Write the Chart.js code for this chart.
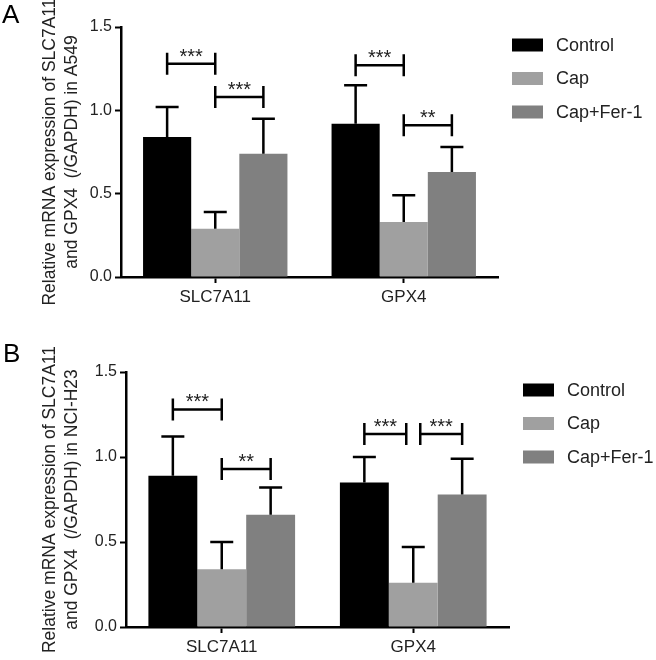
<!DOCTYPE html>
<html>
<head>
<meta charset="utf-8">
<script src="https://cdn.jsdelivr.net/npm/chart.js@4.4.1/dist/chart.umd.min.js"></script>
<style>
    body { margin: 0; background: #fff; }
    .panel { position: relative; width: 656px; height: 330px; }
    canvas { display: block; }
</style>
</head>
<body>
<div class="panel"><canvas id="chart-a549" width="656" height="330"></canvas></div>
<div class="panel"><canvas id="chart-h23" width="656" height="330"></canvas></div>
<script>
// Shared categories and groups
const categories = ['SLC7A11', 'GPX4'];
const groups = ['Control', 'Cap', 'Cap+Fer-1'];
const yTicks = [0, 0.5, 1.0, 1.5];

// Panel A - A549
const a549Control = [0.84, 0.92];
const a549Cap = [0.29, 0.33];
const a549CapFer = [0.74, 0.63];
const a549ControlSd = [0.18, 0.23];
const a549CapSd = [0.10, 0.16];
const a549CapFerSd = [0.21, 0.15];
// [category, from group, to group, y value, label]
const a549Sig = [
    [0, 0, 1, 1.28, '***'],
    [0, 1, 2, 1.08, '***'],
    [1, 0, 1, 1.27, '***'],
    [1, 1, 2, 0.91, '**']
];

// Panel B - NCI-H23
const h23Control = [0.89, 0.85];
const h23Cap = [0.34, 0.26];
const h23CapFer = [0.66, 0.78];
const h23ControlSd = [0.23, 0.15];
const h23CapSd = [0.16, 0.21];
const h23CapFerSd = [0.16, 0.21];
const h23Sig = [
    [0, 0, 1, 1.28, '***'],
    [0, 1, 2, 0.93, '**'],
    [1, 0, 1, 1.135, '***'],
    [1, 1, 2, 1.135, '***']
];

const groupColors = ['#000000', '#a0a0a0', '#808080'];
const textColor = '#222';

Chart.defaults.font.family = '"Liberation Sans", Arial, sans-serif';

// Upper error bars
const errorBarPlugin = {
    id: 'errorBars',
    afterDatasetsDraw(chart) {
        const ctx = chart.ctx;
        const yScale = chart.scales.y;
        ctx.save();
        ctx.strokeStyle = '#000';
        ctx.lineWidth = 2.5;
        chart.data.datasets.forEach((ds, i) => {
            chart.getDatasetMeta(i).data.forEach((bar, j) => {
                const yErr = yScale.getPixelForValue(ds.data[j] + ds.sd[j]);
                ctx.beginPath();
                ctx.moveTo(bar.x, bar.y);
                ctx.lineTo(bar.x, yErr);
                ctx.moveTo(bar.x - 11.5, yErr);
                ctx.lineTo(bar.x + 11.5, yErr);
                ctx.stroke();
            });
        });
        ctx.restore();
    }
};

// Significance brackets, legend and panel letter
const annotatePlugin = {
    id: 'annotate',
    afterDraw(chart, args, opts) {
        const ctx = chart.ctx;
        const yScale = chart.scales.y;
        const area = chart.chartArea;
        const sig = opts.sig || [];
        ctx.save();
        ctx.strokeStyle = '#000';
        ctx.lineWidth = 2.5;
        ctx.fillStyle = textColor;

        sig.forEach((b) => {
            const [cat, from, to, yVal, label] = b;
            let x1 = chart.getDatasetMeta(from).data[cat].x;
            let x2 = chart.getDatasetMeta(to).data[cat].x;
            // pull ends apart when two brackets meet at the same height
            sig.forEach((o) => {
                if (o === b || o[0] !== cat || o[3] !== yVal) return;
                if (o[1] === to) x2 -= 7;
                if (o[2] === from) x1 += 7;
            });
            const y = yScale.getPixelForValue(yVal);
            ctx.beginPath();
            ctx.moveTo(x1, y);
            ctx.lineTo(x2, y);
            ctx.moveTo(x1, y - 11);
            ctx.lineTo(x1, y + 11);
            ctx.moveTo(x2, y - 11);
            ctx.lineTo(x2, y + 11);
            ctx.stroke();
            ctx.font = '20px "Liberation Sans", Arial, sans-serif';
            ctx.textAlign = 'center';
            ctx.textBaseline = 'alphabetic';
            ctx.fillText(label, (x1 + x2) / 2, y - 1);
        });

        // Legend
        ctx.font = '18px "Liberation Sans", Arial, sans-serif';
        ctx.textAlign = 'left';
        ctx.textBaseline = 'middle';
        chart.data.datasets.forEach((ds, i) => {
            const lx = area.right + 14;
            const ly = area.top + 18 + i * 33.5;
            ctx.fillStyle = ds.backgroundColor;
            ctx.fillRect(lx, ly - 6.5, 31, 13);
            ctx.fillStyle = textColor;
            ctx.fillText(ds.label, lx + 44, ly + 1);
        });

        // Panel letter
        ctx.font = '26px "Liberation Sans", Arial, sans-serif';
        ctx.textBaseline = 'top';
        ctx.fillStyle = '#000';
        ctx.fillText(opts.letter, opts.letterX, opts.letterY);
        ctx.restore();
    }
};

function createPanel(id, series, sds, sig, cellLine, box) {
    const ctx = document.getElementById(id).getContext('2d');
    return new Chart(ctx, {
        type: 'bar',
        data: {
            labels: categories,
            datasets: groups.map((g, i) => ({
                label: g,
                data: series[i],
                sd: sds[i],
                backgroundColor: groupColors[i],
                borderWidth: 0,
                categoryPercentage: 0.766,
                barPercentage: 1
            }))
        },
        options: {
            responsive: false,
            animation: false,
            devicePixelRatio: 1,
            layout: {
                padding: { left: 30, top: box.top, right: 656 - box.right, bottom: 330 - box.bottom - 30 }
            },
            plugins: {
                legend: { display: false },
                tooltip: { enabled: false },
                annotate: { sig: sig, letter: box.letter, letterX: box.letterX, letterY: box.letterY }
            },
            scales: {
                x: {
                    grid: {
                        display: true,
                        offset: false,
                        drawOnChartArea: false,
                        drawTicks: true,
                        tickLength: 6,
                        tickWidth: 2,
                        tickColor: '#000'
                    },
                    border: { display: true, color: '#000', width: 2.5 },
                    ticks: { color: textColor, font: { size: 17 }, padding: 4 },
                    afterFit(scale) { scale.height = 30; }
                },
                y: {
                    min: 0,
                    max: 1.5,
                    afterBuildTicks(scale) {
                        scale.ticks = yTicks.map(v => ({ value: v }));
                    },
                    grid: {
                        display: true,
                        drawOnChartArea: false,
                        drawTicks: true,
                        tickLength: 6,
                        tickWidth: 2,
                        tickColor: '#000'
                    },
                    border: { display: true, color: '#000', width: 2.5 },
                    ticks: {
                        color: textColor,
                        font: { size: 16 },
                        padding: 3,
                        callback: (v) => Number(v).toFixed(1)
                    },
                    title: {
                        display: true,
                        text: ['Relative mRNA expression of SLC7A11', 'and GPX4  (/GAPDH) in ' + cellLine],
                        color: textColor,
                        font: { size: 17.5, lineHeight: 1.27 },
                        padding: { top: 9, bottom: 0 }
                    },
                    afterFit(scale) { scale.width = box.left - 30; }
                }
            }
        },
        plugins: [errorBarPlugin, annotatePlugin]
    });
}

createPanel('chart-a549',
    [a549Control, a549Cap, a549CapFer],
    [a549ControlSd, a549CapSd, a549CapFerSd],
    a549Sig, 'A549',
    { left: 121, top: 27, right: 498, bottom: 277, letter: 'A', letterX: 2, letterY: 3 });

createPanel('chart-h23',
    [h23Control, h23Cap, h23CapFer],
    [h23ControlSd, h23CapSd, h23CapFerSd],
    h23Sig, 'NCI-H23',
    { left: 126, top: 42, right: 509, bottom: 297, letter: 'B', letterX: 3, letterY: 12 });
</script>
</body>
</html>
